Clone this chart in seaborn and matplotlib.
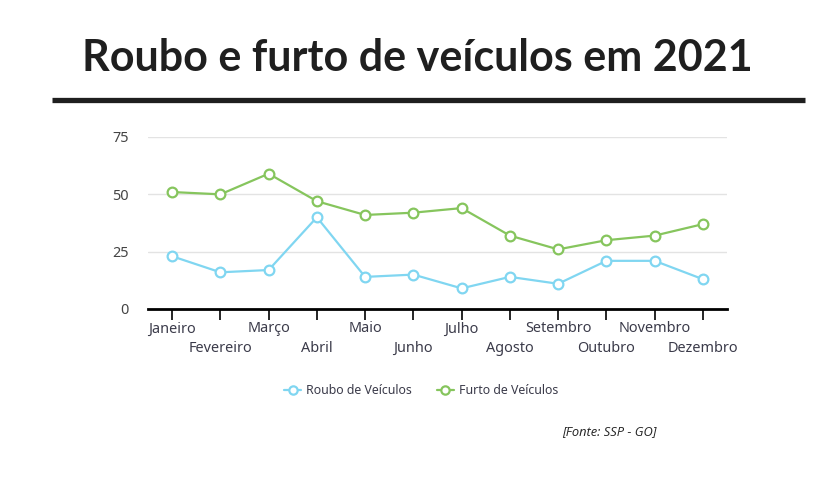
import matplotlib
matplotlib.use("Agg")
import matplotlib.pyplot as plt
import seaborn as sns
import pandas as pd
from matplotlib.lines import Line2D

months = ["Janeiro", "Fevereiro", "Março", "Abril", "Maio", "Junho",
          "Julho", "Agosto", "Setembro", "Outubro", "Novembro", "Dezembro"]
roubo = [23, 16, 17, 40, 14, 15, 9, 14, 11, 21, 21, 13]
furto = [51, 50, 59, 47, 41, 42, 44, 32, 26, 30, 32, 37]
series_names = ["Roubo de Veículos", "Furto de Veículos"]
yticks = [0, 25, 50, 75]

BLUE = "#80d6f1"
GREEN = "#86c55d"

df = pd.DataFrame({
    "mes": months * 2,
    "pos": list(range(len(months))) * 2,
    "valor": roubo + furto,
    "serie": [series_names[0]] * len(months) + [series_names[1]] * len(months),
})

sns.set_theme(style="white")
plt.rcParams["font.family"] = ["Noto Sans", "DejaVu Sans"]

fig = plt.figure(figsize=(8.15, 4.79), dpi=100)
ax = fig.add_axes([148 / 815, 170 / 479, (727 - 148) / 815, (342 - 170) / 479])

sns.lineplot(data=df, x="pos", y="valor", hue="serie", hue_order=series_names,
             palette=[BLUE, GREEN], ax=ax, legend=False, linewidth=1.6,
             marker="o", markersize=7, markerfacecolor="white",
             markeredgewidth=1.6, zorder=3)
for ln in ax.lines:
    ln.set_markeredgecolor(ln.get_color())
    ln.set_clip_on(False)

ax.set_xlim(-0.5, len(months) - 0.5)
ax.set_ylim(0, 75)
ax.set_yticks(yticks)
ax.set_yticklabels([str(v) for v in yticks])
ax.grid(axis="y", color="#e3e3e3", linewidth=1)
ax.grid(axis="x", visible=False)
ax.set_axisbelow(True)
for s in ["top", "right", "left"]:
    ax.spines[s].set_visible(False)
ax.spines["bottom"].set_color("black")
ax.spines["bottom"].set_linewidth(2)
ax.spines["bottom"].set_zorder(4)

ax.set_xticks(range(len(months)))
ax.set_xticklabels(months)
ax.tick_params(axis="x", direction="out", length=8, width=1.2, color="black",
               labelsize=10.4, labelcolor="#3b3b4a", bottom=True)
ax.tick_params(axis="y", length=0, pad=14, labelsize=10.4, labelcolor="#444444")
for i, t in enumerate(ax.xaxis.get_major_ticks()):
    t.set_pad(1 if i % 2 == 0 else 15)
ax.set_xlabel("")
ax.set_ylabel("")

fig.text(417 / 815, 1 - 58 / 479, "Roubo e furto de veículos em 2021",
         ha="center", va="center", fontsize=31, fontweight="bold",
         color="#1f1f1f", family=["Lato", "DejaVu Sans"])
fig.add_artist(Line2D([52 / 815, 805 / 815], [1 - 100 / 479, 1 - 100 / 479],
                      color="#1f1f1f", linewidth=3.8, solid_capstyle="butt",
                      transform=fig.transFigure))

handles = [Line2D([0], [0], color=c, linewidth=1.6, marker="o", markersize=6,
                  markerfacecolor="white", markeredgecolor=c, markeredgewidth=1.6)
           for c in [BLUE, GREEN]]
fig.legend(handles, series_names, loc="center",
           bbox_to_anchor=(421 / 815, 1 - 391 / 479), ncol=2, frameon=False,
           fontsize=8.9, handlelength=1.4, handletextpad=0.4, columnspacing=2.0,
           labelcolor="#3b3b4a")

fig.text(609 / 815, 1 - 432 / 479, "[Fonte: SSP - GO]", ha="center", va="center",
         fontsize=9.3, fontstyle="italic", color="#222222",
         family=["Open Sans", "DejaVu Sans"])

fig.savefig("out.png", dpi=100, facecolor="white")
